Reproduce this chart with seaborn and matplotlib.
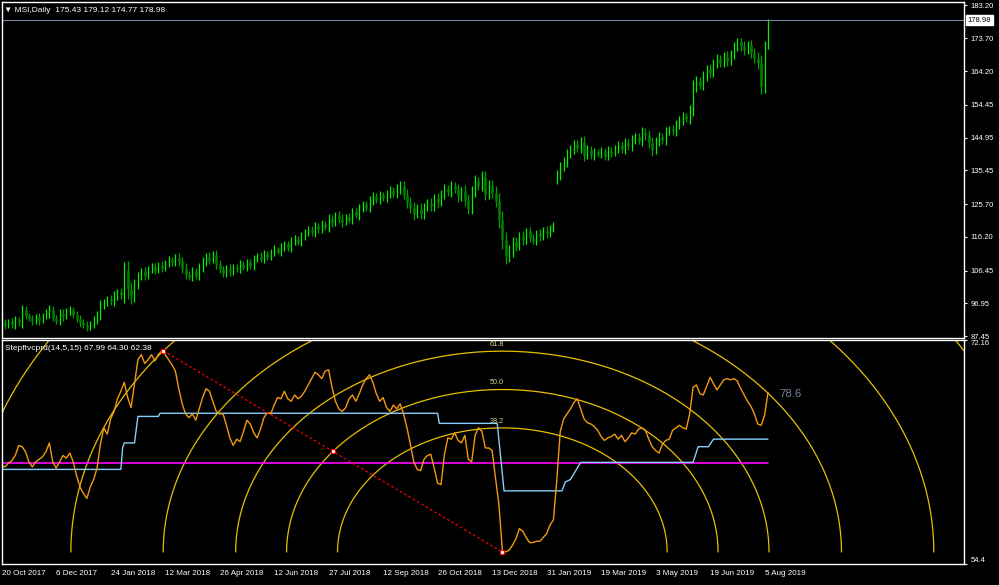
import numpy as np
import matplotlib
matplotlib.use("Agg")
import matplotlib.pyplot as plt
import seaborn as sns

# MSI daily closes, one value every 2 trading bars (20 Oct 2017 .. 8 Aug 2019)
closes = [
    91.2, 90.6, 91.8, 90.9, 92.0, 91.4, 95.0, 93.4, 92.6, 91.8,
    92.9, 92.1, 93.4, 94.2, 95.1, 92.8, 91.9, 94.0, 93.2, 94.6,
    95.0, 93.6, 92.5, 91.4, 90.6, 90.0, 90.9, 92.3, 93.5, 96.4,
    97.0, 98.2, 97.6, 99.0, 100.2, 99.4, 106.5, 101.0, 99.0, 102.5,
    104.6, 106.2, 105.0, 106.8, 107.5, 106.4, 108.0, 107.2, 108.6, 109.4,
    108.8, 110.0, 109.2, 107.0, 105.4, 104.6, 106.2, 105.0, 107.4, 108.9,
    110.4, 109.6, 111.0, 108.4, 106.8, 105.6, 107.0, 106.2, 107.4, 106.8,
    108.2, 107.5, 108.8, 107.9, 109.6, 110.8, 109.9, 111.2, 110.5, 111.8,
    112.6, 111.9, 113.2, 114.0, 113.1, 114.8, 115.6, 114.7, 116.3, 117.4,
    118.3, 117.5, 119.2, 118.4, 120.0, 119.1, 121.3, 120.2, 122.4, 121.5,
    120.4, 122.0, 121.2, 123.5, 122.6, 124.4, 125.6, 124.7, 126.8, 127.9,
    127.0, 128.4, 127.4, 128.8, 129.6, 128.7, 130.2, 131.0, 128.4, 126.2,
    124.6, 122.9, 124.4, 122.8, 124.8, 126.0, 125.0, 127.4, 126.3, 128.6,
    130.0, 129.2, 131.0, 130.0, 128.0, 129.4, 127.0, 124.2, 129.5, 132.3,
    131.0, 133.6, 128.6, 131.2, 129.0, 126.7, 121.0, 115.2, 110.6, 112.0,
    114.8, 113.4, 116.5, 115.2, 117.8, 116.0, 115.0, 117.2, 116.4, 118.0,
    117.2, 118.8, 119.4, 134.0, 136.5, 138.0, 140.2, 141.6, 143.0, 142.0,
    143.6, 140.0, 141.4, 139.8, 140.8, 140.2, 141.0, 139.6, 141.2, 140.5,
    141.8, 142.8, 141.6, 143.4, 142.4, 144.2, 145.2, 144.0, 146.4, 145.6,
    143.4, 141.4, 143.8, 145.2, 144.2, 146.6, 147.4, 146.8, 148.6, 150.0,
    151.2, 150.4, 153.0, 159.6, 161.4, 160.2, 162.6, 164.8, 163.6, 166.4,
    167.8, 166.6, 168.4, 167.2, 169.0, 171.2, 172.6, 171.4, 170.4, 171.8,
    169.4, 168.0, 166.5, 160.0, 170.8, 178.98,
]
# shadow length beyond the body of each sample
wicks = [
    0.8, 1.2, 0.7, 1.0, 1.4, 0.9, 1.6, 1.1, 0.8, 1.0,
    0.9, 1.3, 0.8, 1.1, 1.5, 1.0, 0.8, 1.2, 1.4, 0.9,
    1.1, 0.8, 1.0, 1.2, 0.9, 1.1, 0.8, 1.0, 1.3, 1.5,
    1.2, 0.9, 1.1, 1.4, 1.0, 1.2, 2.4, 2.8, 2.2, 1.6,
    1.3, 1.0, 1.4, 0.9, 1.2, 1.1, 0.8, 1.3, 1.0, 1.2,
    0.9, 1.1, 1.4, 1.2, 1.5, 1.0, 1.3, 0.9, 1.2, 1.4,
    1.0, 1.3, 1.1, 1.4, 1.2, 0.9, 1.1, 1.3, 1.0, 0.8,
    1.2, 0.9, 1.1, 1.0, 1.3, 0.8, 1.1, 1.2, 0.9, 1.0,
    1.1, 0.8, 1.2, 1.0, 0.9, 1.3, 1.1, 0.8, 1.2, 1.0,
    0.9, 1.1, 1.3, 1.0, 1.2, 0.9, 1.4, 1.1, 1.0, 1.2,
    1.3, 0.9, 1.1, 1.2, 1.0, 1.4, 1.1, 0.9, 1.2, 1.3,
    1.0, 1.2, 0.9, 1.1, 1.4, 1.0, 1.2, 1.5, 1.3, 1.6,
    1.4, 1.7, 1.2, 1.5, 1.3, 1.1, 1.4, 1.2, 1.6, 1.3,
    1.5, 1.2, 1.4, 1.1, 1.6, 1.3, 1.8, 1.5, 1.4, 1.7,
    1.3, 1.6, 1.8, 1.4, 1.5, 1.9, 2.2, 2.6, 2.3, 1.8,
    1.5, 1.3, 1.1, 1.4, 1.0, 1.2, 0.9, 1.1, 1.3, 1.0,
    1.2, 0.9, 1.1, 1.6, 1.4, 1.2, 1.5, 1.1, 1.3, 1.2,
    1.4, 1.8, 1.3, 1.1, 1.2, 0.9, 1.3, 1.0, 1.2, 1.1,
    0.9, 1.2, 1.0, 1.3, 1.1, 1.4, 1.2, 1.0, 1.5, 1.3,
    1.6, 1.8, 1.2, 1.4, 1.1, 1.3, 1.0, 1.2, 1.4, 1.1,
    1.3, 1.0, 1.5, 1.9, 1.4, 1.2, 1.6, 1.3, 1.5, 1.2,
    1.4, 1.1, 1.3, 1.5, 1.2, 1.4, 1.1, 1.3, 1.6, 1.2,
    1.4, 1.5, 1.8, 2.4, 2.2, 0.2,
]
gap_opens = {163: 133.0}   # opening price after the Jan 2019 gap
last_price = 178.98

# indicator buffers (same 2-bar sampling)
osc = [
    62.2, 62.1, 62.4, 62.6, 63.0, 63.8, 63.7, 63.3, 62.5, 62.1,
    62.5, 62.7, 62.9, 63.3, 64.0, 62.5, 62.0, 62.5, 63.0, 62.8,
    63.2, 62.5, 61.4, 60.5, 60.0, 59.6, 60.5, 61.1, 62.0, 63.9,
    65.2, 64.7, 65.9, 66.5, 67.5, 68.1, 68.8, 67.6, 66.8, 68.7,
    70.6, 71.0, 70.3, 70.6, 71.0, 70.5, 71.0, 71.3, 71.0, 70.6,
    70.2, 69.7, 68.3, 67.1, 66.3, 66.0, 66.3, 65.8, 66.7, 67.6,
    68.3, 68.1, 67.3, 66.5, 66.3, 66.3, 65.4, 64.4, 63.8, 64.3,
    64.1, 64.9, 65.8, 65.5, 64.8, 64.4, 65.1, 66.0, 66.4, 66.3,
    67.0, 67.6, 67.5, 68.1, 67.5, 67.3, 67.8, 67.5, 67.7, 68.1,
    68.6, 69.1, 69.6, 69.4, 69.1, 69.7, 69.8, 68.4, 67.3, 66.7,
    66.5, 66.8, 67.5, 67.8, 67.3, 67.9, 68.6, 69.1, 69.4, 68.8,
    67.9, 67.3, 67.6, 66.8, 66.5, 67.0, 66.7, 67.1, 66.3, 65.2,
    63.9, 62.5, 61.9, 61.8, 62.7, 63.0, 63.1, 62.0, 60.8, 60.7,
    63.1, 64.4, 64.3, 64.8, 64.2, 64.0, 64.6, 62.7, 62.5, 64.6,
    65.2, 64.9, 63.6, 63.6, 63.4, 61.2, 59.1, 55.5, 55.35, 55.5,
    55.9, 56.4, 57.2, 57.0, 56.5, 56.1, 56.1, 56.2, 56.2, 56.5,
    56.8, 57.5, 57.9, 61.1, 64.9, 65.9, 66.3, 66.7, 67.2, 67.5,
    66.7, 65.9, 65.6, 65.5, 65.3, 65.0, 64.5, 64.2, 64.4, 64.5,
    64.7, 64.3, 64.6, 64.1, 64.4, 64.8, 64.7, 65.1, 65.2, 65.0,
    64.3, 63.7, 63.4, 63.2, 63.9, 64.2, 64.3, 65.0, 65.2, 65.4,
    65.2, 65.1, 66.3, 68.4, 68.6, 67.9, 67.8, 68.5, 69.2, 68.7,
    68.2, 68.6, 69.0, 69.1, 69.0, 69.1, 68.9, 68.3, 67.8, 67.3,
    66.9, 66.3, 65.5, 65.4, 66.2, 67.99,
]
step_bars = [0, 70, 71, 72, 78, 80, 92, 93, 256, 257, 291, 295, 329, 331,
             334, 338, 340, 406, 409, 415, 418, 450]
step_vals = [61.9, 61.9, 63.6, 64.0, 64.0, 66.1, 66.1, 66.35, 66.35, 65.55,
             65.55, 60.2, 60.2, 60.9, 61.1, 62.0, 62.46, 62.46, 63.7, 63.7,
             64.3, 64.3]
signal_level = 62.38

# fibonacci arcs object
fib_start = (95, 71.3)
fib_end = (294, 55.35)
fib_levels = [0.382, 0.5, 0.618, 0.786, 1.0, 1.236]
arc_aspect = 0.1017   # indicator units per bar on screen

price_ticks = [183.20, 173.70, 164.20, 154.45, 144.95, 135.45, 125.70,
               116.20, 106.45, 96.95, 87.45]
osc_ticks = [72.16, 54.4]
osc_tick_labels = ["72.16", "54.4"]
date_bars = [0, 32, 64, 96, 128, 160, 192, 224, 256, 288, 320, 352, 384, 416, 448]
date_labels = ["20 Oct 2017", "6 Dec 2017", "24 Jan 2018", "12 Mar 2018",
               "26 Apr 2018", "12 Jun 2018", "27 Jul 2018", "12 Sep 2018",
               "26 Oct 2018", "13 Dec 2018", "31 Jan 2019", "19 Mar 2019",
               "3 May 2019", "19 Jun 2019", "5 Aug 2019"]

sns.set_style("dark", {"axes.facecolor": "black", "figure.facecolor": "black",
                       "axes.edgecolor": "white", "text.color": "white",
                       "xtick.color": "white", "ytick.color": "white"})
plt.rcParams["font.family"] = ["Liberation Sans", "DejaVu Sans"]

W, H = 999, 585
fig = plt.figure(figsize=(W / 100, H / 100), dpi=100)
ax1 = fig.add_axes([1.5 / W, (H - 338) / H, 962.5 / W, 336 / H])
ax2 = fig.add_axes([1.5 / W, (H - 564) / H, 962.5 / W, 224 / H])

for ax in (ax1, ax2):
    ax.set_facecolor("black")
    ax.set_xlim(-0.1, 565.1)
    ax.grid(False)
    for s in ax.spines.values():
        s.set_color("white")
        s.set_linewidth(1)
    ax.yaxis.tick_right()
    ax.tick_params(axis="y", length=2.5, width=0.8, pad=2, labelsize=5.5,
                   colors="white", direction="out")

# ---- price panel (candles) ----
x = np.arange(len(closes)) * 2
c = np.array(closes)
o = np.concatenate([[closes[0]], c[:-1]])
for k, v in gap_opens.items():
    o[k] = v
w = np.array(wicks)
hi = np.maximum(o, c) + w
lo = np.minimum(o, c) - w
up = c >= o
ax1.vlines(x[up], lo[up], hi[up], color="#00f000", lw=0.9)
ax1.vlines(x[~up], lo[~up], hi[~up], color="#00a000", lw=0.9)
ax1.vlines(x[~up], o[~up], c[~up], color="#008000", lw=1.8)
ax1.axhline(last_price, color="#778899", lw=0.8)
ax1.set_ylim(86.91, 184.21)
ax1.set_xticks([])
ax1.set_yticks(price_ticks)
ax1.set_yticklabels([f"{v:.2f}" for v in price_ticks])
ax1.text(1.0035, last_price, f"{last_price:.2f}", transform=ax1.get_yaxis_transform(),
         ha="left", va="center", color="black", fontsize=5.5, clip_on=False,
         bbox=dict(facecolor="white", edgecolor="white", pad=1.3))

# ---- indicator panel ----
t = np.linspace(0, np.pi, 600)
dx = fib_end[0] - fib_start[0]
dy = fib_start[1] - fib_end[1]
a = np.hypot(dx, dy / arc_aspect)
b = a * arc_aspect
for r in fib_levels:
    ax2.plot(fib_end[0] + r * a * np.cos(t), fib_end[1] + r * b * np.sin(t),
             color="#e6c000", lw=0.9)
    ax2.text(fib_end[0] + 1, fib_end[1] + r * b + 0.25, f"{r * 100:.1f}",
             ha="right", va="bottom", fontsize=5.2, color="#d8d890", clip_on=True)

sns.lineplot(x=[0, x[-1]], y=[signal_level, signal_level], ax=ax2,
             color="#ff00ff", lw=1.2)
sns.lineplot(x=step_bars, y=step_vals, ax=ax2, color="#87cefa", lw=1.0,
             estimator=None, sort=False)
sns.lineplot(x=x, y=osc, ax=ax2, color="#f29a0e", lw=1.0, estimator=None)

mid = ((fib_start[0] + fib_end[0]) / 2, (fib_start[1] + fib_end[1]) / 2)
ax2.plot([fib_start[0], fib_end[0]], [fib_start[1], fib_end[1]],
         color="#ff0000", lw=0.9, ls=(0, (2, 2)))
ax2.scatter([fib_start[0], mid[0], fib_end[0]], [fib_start[1], mid[1], fib_end[1]],
            marker="s", s=9, facecolor="white", edgecolor="#ff0000", lw=0.8, zorder=5)
ax2.text(457, 67.86, "78.6", ha="left", va="center", fontsize=8.2, color="#778899")

ax2.set_ylim(54.4, 72.16)
ax2.set_yticks(osc_ticks)
ax2.set_yticklabels(osc_tick_labels)
ylabs = ax2.get_yticklabels()
ylabs[0].set_va("top")
ylabs[1].set_va("bottom")
ax2.set_xticks(date_bars)
ax2.set_xticklabels(date_labels, ha="left", fontsize=5.8)
ax2.tick_params(axis="x", length=2.5, width=0.8, pad=2, colors="white", direction="out")
ax2.set_xlabel("")
ax2.set_ylabel("")

fig.text(4 / W, 1 - 10 / H, "\u25bc MSI,Daily  175.43 179.12 174.77 178.98",
         fontsize=6, color="white", va="center", ha="left")
fig.text(5 / W, 1 - 349 / H, "Stepftvcprd(14,5,15) 67.99 64.30 62.38",
         fontsize=6, color="white", va="center", ha="left")

fig.savefig("out.png", dpi=100, facecolor="black")
